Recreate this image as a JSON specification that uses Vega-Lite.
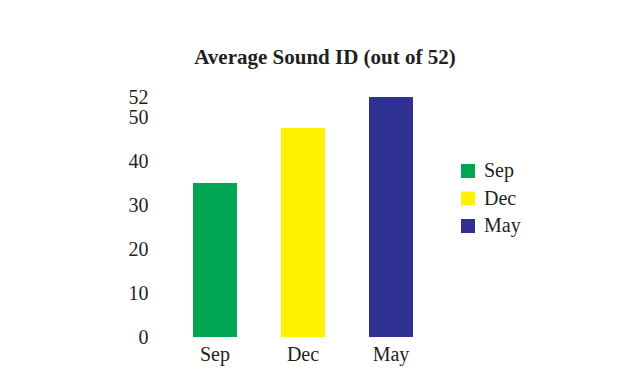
{
  "$schema": "https://vega.github.io/schema/vega-lite/v6.json",
  "width": 308,
  "height": 240,
  "autosize": "none",
  "padding": {"left": 149, "top": 97, "right": 171, "bottom": 53},
  "background": "white",
  "title": {
    "text": "Average Sound ID (out of 52)",
    "font": "Liberation Serif",
    "fontSize": 21,
    "fontWeight": "bold",
    "color": "#231f20",
    "anchor": "middle",
    "baseline": "alphabetic",
    "offset": 2,
    "dx": 22
  },
  "data": {
    "values": [
      {"month": "Sep", "score": 35},
      {"month": "Dec", "score": 47.5},
      {"month": "May", "score": 52}
    ]
  },
  "mark": {"type": "bar"},
  "encoding": {
    "x": {
      "field": "month",
      "type": "nominal",
      "sort": ["Sep", "Dec", "May"],
      "scale": {"paddingInner": 0.5, "paddingOuter": 0.5},
      "axis": {
        "title": null,
        "labelAngle": 0,
        "ticks": false,
        "domain": false,
        "labelPadding": 7,
        "labelFont": "Liberation Serif",
        "labelFontSize": 20,
        "labelColor": "#231f20"
      }
    },
    "y": {
      "field": "score",
      "type": "quantitative",
      "scale": {"domain": [0, 50, 52], "range": [240, 20, 0]},
      "axis": {
        "title": null,
        "values": [0, 10, 20, 30, 40, 50, 52],
        "ticks": false,
        "domain": false,
        "grid": false,
        "labelPadding": 1,
        "labelFont": "Liberation Serif",
        "labelFontSize": 20,
        "labelColor": "#231f20"
      }
    },
    "color": {
      "field": "month",
      "type": "nominal",
      "sort": ["Sep", "Dec", "May"],
      "scale": {"domain": ["Sep", "Dec", "May"], "range": ["#00a651", "#fff100", "#2e3192"]},
      "legend": {
        "title": null,
        "orient": "none",
        "legendX": 309,
        "legendY": 64,
        "padding": 0,
        "symbolType": "square",
        "symbolSize": 196,
        "symbolStrokeWidth": 0,
        "rowPadding": 7.5,
        "labelOffset": 6,
        "labelFont": "Liberation Serif",
        "labelFontSize": 20,
        "labelColor": "#231f20"
      }
    }
  },
  "config": {"view": {"stroke": null}}
}
